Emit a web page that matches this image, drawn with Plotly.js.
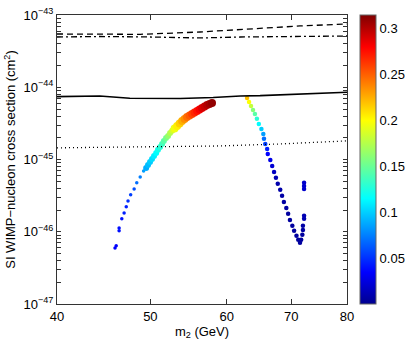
<!DOCTYPE html>
<html><head><meta charset="utf-8">
<script src="https://cdn.plot.ly/plotly-3.0.1.min.js"></script>
<style>body{margin:0;background:#fff}</style>
</head><body><div id="chart" style="width:407px;height:341px"></div>
<script>
// axis ticks
const xTicks = [40, 50, 60, 70, 80];
const yRangeExp = [-47, -43];
const yTickMantissas = [1, 2, 3, 4, 5, 6, 7, 8, 9];
const cbTickVals = [0.05, 0.1, 0.15, 0.2, 0.25, 0.3];
const cbTickText = ['0.05', '0.1', '0.15', '0.2', '0.25', '0.3'];

// limit curves
const dashX = [40, 48.8, 56.3, 65.0, 71.5, 80];
const dashY = [5.46e-44, 5.40e-44, 5.82e-44, 6.61e-44, 7.05e-44, 7.51e-44];
const dashDotX = [40, 44.3, 50.0, 56.3, 62.0, 71.5, 80];
const dashDotY = [4.96e-44, 5.04e-44, 4.96e-44, 4.81e-44, 4.96e-44, 5.04e-44, 5.12e-44];
const solidX = [40, 44.3, 47.6, 53.7, 58.1, 62.0, 65.0, 71.5, 80];
const solidY = [7.41e-45, 7.58e-45, 7.05e-45, 7.00e-45, 7.23e-45, 7.58e-45, 7.65e-45, 8.07e-45, 8.53e-45];
const dotX = [40, 50.0, 59.0, 68.1, 80];
const dotY = [1.45e-45, 1.52e-45, 1.54e-45, 1.64e-45, 1.81e-45];

// scan points: left branch, lower (sparse) part
const leftLowX = [45.95, 46.08, 46.4, 46.4, 46.7, 46.96, 47.2, 47.4, 47.7, 48.1, 48.4, 48.8, 49.2];
const leftLowY = [5.98e-47, 6.38e-47, 1.03e-46, 1.13e-46, 1.51e-46, 1.82e-46, 2.21e-46, 2.67e-46, 3.24e-46, 3.92e-46, 4.75e-46, 5.74e-46, 6.95e-46];
const leftLowC = [0.035, 0.035, 0.04, 0.04, 0.04, 0.045, 0.045, 0.05, 0.055, 0.06, 0.07, 0.075, 0.085];
// left branch, middle band
const leftMidX = [49.50, 49.72, 49.96, 50.2, 50.44, 50.7, 50.92, 51.17, 51.42, 51.64, 51.91, 52.16, 52.41, 52.67];
const leftMidY = [7.65e-46, 8.42e-46, 9.26e-46, 1.02e-45, 1.12e-45, 1.23e-45, 1.36e-45, 1.49e-45, 1.64e-45, 1.81e-45, 1.99e-45, 2.12e-45, 2.33e-45, 2.49e-45];
const leftMidC = [0.09, 0.095, 0.1, 0.105, 0.11, 0.115, 0.122, 0.13, 0.137, 0.145, 0.155, 0.165, 0.175, 0.185];
// left branch, upper (thick) band
const leftTopX = [52.98, 53.30, 53.62, 53.94, 54.26, 54.58, 54.91, 55.24, 55.57, 55.91, 56.24, 56.57, 56.92, 57.26, 57.60, 57.94];
const leftTopY = [2.69e-45, 2.92e-45, 3.16e-45, 3.42e-45, 3.64e-45, 3.88e-45, 4.07e-45, 4.27e-45, 4.48e-45, 4.70e-45, 4.93e-45, 5.17e-45, 5.43e-45, 5.69e-45, 5.87e-45, 6.07e-45];
const leftTopC = [0.195, 0.205, 0.215, 0.225, 0.235, 0.245, 0.252, 0.26, 0.268, 0.275, 0.282, 0.29, 0.295, 0.30, 0.305, 0.31];
// right branch
const rightX = [63.0, 63.3, 63.6, 63.9, 64.2, 64.5, 64.8, 65.2, 65.5, 65.6, 65.8, 66.1, 66.2, 66.6, 66.9, 67.2, 67.5, 67.8, 68.2, 68.5, 68.8, 69.2, 69.5, 69.8, 70.2, 70.5, 70.9, 71.2, 71.5, 71.7, 71.9, 72.0, 72.0, 72.2, 72.2, 72.2, 72.2, 72.2];
const rightY = [7.11e-45, 6.26e-45, 5.51e-45, 4.85e-45, 4.27e-45, 3.65e-45, 3.11e-45, 2.65e-45, 2.26e-45, 1.93e-45, 1.64e-45, 1.40e-45, 1.19e-45, 9.87e-46, 8.16e-46, 6.74e-46, 5.57e-46, 4.60e-46, 3.80e-46, 3.14e-46, 2.59e-46, 2.14e-46, 1.77e-46, 1.46e-46, 1.21e-46, 1.03e-46, 8.77e-47, 7.73e-47, 7.02e-47, 7.73e-47, 9.06e-47, 1.06e-46, 1.21e-46, 1.51e-46, 1.66e-46, 4.31e-46, 3.92e-46, 4.75e-46];
const rightC = [0.22, 0.2, 0.18, 0.16, 0.145, 0.13, 0.115, 0.1, 0.085, 0.07, 0.055, 0.045, 0.035, 0.028, 0.022, 0.016, 0.012, 0.01, 0.009, 0.008, 0.007, 0.007, 0.006, 0.006, 0.006, 0.006, 0.006, 0.006, 0.006, 0.006, 0.006, 0.007, 0.008, 0.012, 0.012, 0.02, 0.02, 0.02];

const jet = [[0, 'rgb(0,0,143)'], [0.11, 'rgb(0,0,255)'], [0.365, 'rgb(0,255,255)'], [0.635, 'rgb(255,255,0)'], [0.889, 'rgb(255,0,0)'], [1, 'rgb(128,0,0)']];
const cmin = 0.001, cmax = 0.315;
const ff = 'Liberation Sans, Arial, sans-serif';

// y tick positions (decades labelled, 2..9 unlabelled)
const yTickVals = [], yTickText = [];
for (let e = yRangeExp[0]; e <= yRangeExp[1]; e++) {
  yTickMantissas.forEach(m => {
    if (e === yRangeExp[1] && m > 1) return;
    yTickVals.push(Number(m + 'e' + e));
    yTickText.push(m === 1 ? '10<sup>' + String(e).replace('-', '−') + '</sup>' : '');
  });
}

function pts(x, y, c, size, withBar) {
  const m = {color: c, colorscale: jet, cmin: cmin, cmax: cmax, size: size, symbol: 'circle', line: {width: 0}};
  if (withBar) {
    m.showscale = true;
    m.colorbar = {xref: 'container', x: 0.8845, xanchor: 'left', xpad: 0, y: 0.5, yanchor: 'middle', ypad: 0, len: 1, lenmode: 'fraction',
      thickness: 16, outlinewidth: 1, outlinecolor: '#666', tickvals: cbTickVals, ticktext: cbTickText, ticks: '',
      tickfont: {family: ff, size: 13, color: '#000'}};
  }
  return {x: x, y: y, mode: 'markers', type: 'scatter', marker: m, hoverinfo: 'skip'};
}
function line(x, y, dash) {
  return {x: x, y: y, mode: 'lines', type: 'scatter', line: {color: '#000', width: dash === 'solid' ? 1.6 : 1.3, dash: dash}, hoverinfo: 'skip'};
}

const data = [
  pts(leftLowX, leftLowY, leftLowC, 3.5, true),
  pts(leftMidX, leftMidY, leftMidC, 6, false),
  pts(leftTopX, leftTopY, leftTopC, 8, false),
  pts(rightX, rightY, rightC, 4.5, false),
  line(dashX, dashY, '6px,4px'),
  line(dashDotX, dashDotY, '6px,3px,2px,3px'),
  line(solidX, solidY, 'solid'),
  line(dotX, dotY, '1px,3px')
];

const font = {family: ff, size: 13, color: '#000'};
const layout = {
  width: 407, height: 341,
  margin: {l: 57, r: 60, t: 15, b: 37},
  paper_bgcolor: '#fff', plot_bgcolor: '#fff',
  showlegend: false,
  font: font,
  xaxis: {type: 'log', range: [Math.log10(xTicks[0]), Math.log10(xTicks[xTicks.length - 1])], tickvals: xTicks, ticktext: xTicks.map(String),
    showgrid: false, zeroline: false, showline: true, linecolor: '#333', linewidth: 1, mirror: 'ticks',
    ticks: 'inside', ticklen: 5, tickcolor: '#333', tickfont: font,
    title: {text: 'm<sub>2</sub> (GeV)', font: font, standoff: 2}},
  yaxis: {type: 'log', range: yRangeExp, tickmode: 'array', tickvals: yTickVals, ticktext: yTickText,
    showgrid: false, zeroline: false, showline: true, linecolor: '#333', linewidth: 1, mirror: 'ticks',
    ticks: 'inside', ticklen: 4, tickcolor: '#333', tickfont: font,
    title: {text: 'SI WIMP−nucleon cross section (cm<sup>2</sup>)', font: font, standoff: 4}}
};
Plotly.newPlot('chart', data, layout, {displayModeBar: false, staticPlot: true});
</script></body></html>
